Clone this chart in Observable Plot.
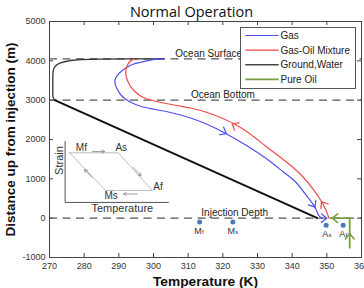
<!DOCTYPE html>
<html>
<head>
<meta charset="utf-8">
<script src="https://cdn.jsdelivr.net/npm/d3@7"></script>
<script src="https://cdn.jsdelivr.net/npm/@observablehq/plot@0.6"></script>
<style>
  body { margin: 0; background: #fff; }
  #chart { width: 364px; height: 288px; }
</style>
</head>
<body>
<div id="chart"></div>
<script>
// Axis ticks
const xTicks = [270, 280, 290, 300, 310, 320, 330, 340, 350, 360];
const yTicks = [-1000, 0, 1000, 2000, 3000, 4000, 5000];

// Reference depths (m above the injection point)
const levelNames = ["Ocean Surface", "Ocean Bottom", "Injection Depth"];
const levelZ = [4050, 3000, 0];
const levelLabelT = [306.3, 310.8, 313.8];

// Gas: travels down from the surface to the injection depth
const gasT = [303.0, 299.1, 296.3, 293.9, 292.4, 291.0, 289.8, 289.0, 288.9, 289.5, 290.5, 291.9, 293.9, 296.5, 300.6, 304.9, 310.7, 315.6, 320.3, 326.6, 332.3, 337.2, 341.0, 343.9, 346.4, 347.8, 348.7];
const gasZ = [4050, 4020, 3965, 3907, 3838, 3754, 3653, 3543, 3424, 3289, 3144, 3030, 2928, 2839, 2763, 2686, 2547, 2381, 2178, 1860, 1530, 1195, 920, 602, 305, 50, 0];

// Gas-oil mixture: returns from the injection depth to the surface
const mixT = [294.3, 293.2, 292.5, 292.1, 292.0, 292.3, 292.9, 293.8, 295.1, 296.8, 299.1, 302.9, 306.8, 310.7, 315.5, 319.3, 323.2, 327.7, 332.3, 336.1, 339.8, 343.0, 346.0, 348.8, 349.9, 350.6];
const mixZ = [4050, 3983, 3894, 3792, 3678, 3551, 3424, 3297, 3182, 3081, 3004, 2928, 2864, 2801, 2686, 2559, 2399, 2153, 1835, 1581, 1326, 1059, 742, 373, 169, 0];

// Water column (surface to sea floor) and ground (sea floor to injection depth)
const waterT = [303.0, 293.4, 284.7, 278.9, 276.1, 274.6, 273.2, 272.2, 271.6, 271.2, 271.0, 270.95, 270.95, 271.05, 271.3, 271.5];
const waterZ = [4050, 4049, 4044, 4029, 4008, 3983, 3950, 3907, 3856, 3792, 3703, 3602, 3119, 3068, 3030, 3000];
const groundT = [271.5, 347.3];
const groundZ = [3000, 0];

// Pure oil: rises from below, then turns toward the injection point
const oilT = [356.6, 356.6, 351.0];
const oilZ = [-750, 0, 0];

// Direction markers on the flow paths: tip position and heading (dT, dz)
const gasArrowT = [321.0, 346.6, 350.0];
const gasArrowZ = [2150, 280, 0];
const gasArrowDT = [1, 1, 1];
const gasArrowDZ = [-48.5, -141, 0];
const mixArrowT = [322.7, 348.5];
const mixArrowZ = [2400, 420];
const mixArrowDT = [-1, -1];
const mixArrowDZ = [54, 141];
const oilArrowT = [356.6, 351.55];
const oilArrowZ = [-390, 0];
const oilArrowDT = [0, -1];
const oilArrowDZ = [1, 0];

// Transformation temperatures
const phaseNames = ["Mf", "Ms", "As", "Af"];
const phaseT = [313.3, 322.9, 349.8, 354.7];
const phaseZ = [-100, -100, -180, -180];

// Inset: strain–temperature hysteresis loop
const insetAxisT = [274.5, 274.5, 304.3];
const insetAxisZ = [1950, 400, 400];
const loopT = [275.8, 289.8, 299.7, 286.2, 275.8];
const loopZ = [1662, 1662, 704, 704, 1662];
const loopArrowT1 = [282.4, 294.2, 295.4, 282.3];
const loopArrowZ1 = [1695, 1288, 615, 1034];
const loopArrowT2 = [285.9, 296.4, 291.35, 280.1];
const loopArrowZ2 = [1695, 1072, 615, 1237];
const loopLabels = ["Mf", "As", "Af", "Ms"];
const loopLabelT = [279.2, 290.7, 301.3, 287.8];
const loopLabelZ = [1789, 1797, 787, 576];

// Legend
const seriesNames = ["Gas", "Gas-Oil Mixture", "Ground,Water", "Pure Oil"];
const seriesColors = ["#4f4ff2", "#f04848", "#444444", "#78a040"];
const seriesWidths = [1.2, 1.2, 1.6, 1.8];

const titleText = "Normal Operation";
const xLabel = "Temperature (K)";
const yLabel = "Distance up from injection (m)";

const W = 364, H = 288;
const M = {top: 21, right: 3, bottom: 31, left: 49};
const fw = W - M.left - M.right, fh = H - M.top - M.bottom;
const xDomain = [270, 360], yDomain = [-1000, 5000];
const kx = fw / (xDomain[1] - xDomain[0]);
const ky = fh / (yDomain[1] - yDomain[0]);

const pts = (T, Z) => T.map((t, i) => ({T: t, z: Z[i]}));
const heads = (T, Z, DT, DZ) => T.map((t, i) => ({T: t, z: Z[i], dT: DT[i], dz: DZ[i]}));
const heading = d => Math.atan2(d.dT * kx, d.dz * ky) * 180 / Math.PI;

// Open chevron, tip at the anchor point
const chevron = {
  draw(ctx, l) {
    ctx.moveTo(-l * 0.62, l * 0.78);
    ctx.lineTo(0, 0);
    ctx.lineTo(l * 0.62, l * 0.78);
  }
};

const sans = "'Liberation Sans', Arial, sans-serif";
const titleFont = "'Open Sans', sans-serif";
const [cGas, cMix, cGround, cOil] = seriesColors;

const phases = phaseNames.map((n, i) => ({base: n[0], sub: n.slice(1), T: phaseT[i], z: phaseZ[i]}));
const levels = levelNames.map((n, i) => ({name: n, z: levelZ[i], T: levelLabelT[i]}));
const loopArrows = loopArrowT1.map((t, i) => ({x1: t, y1: loopArrowZ1[i], x2: loopArrowT2[i], y2: loopArrowZ2[i]}));
const loopText = loopLabels.map((n, i) => ({name: n, T: loopLabelT[i], z: loopLabelZ[i]}));

const plot = Plot.plot({
  width: W, height: H,
  marginTop: M.top, marginRight: M.right, marginBottom: M.bottom, marginLeft: M.left,
  x: {domain: xDomain},
  y: {domain: yDomain},
  style: {fontFamily: sans, fontSize: "9px", color: "#333", background: "#fff"},
  marks: [
    Plot.axisX(xTicks, {tickSize: 0, tickPadding: 5, tickFormat: d => String(d), label: null, fontSize: 9, fontFamily: sans}),
    Plot.axisY(yTicks, {tickSize: 0, tickPadding: 4, tickFormat: d => String(d), label: null, fontSize: 9, fontFamily: sans}),
    // inward ticks on all four sides
    Plot.tickX(xTicks, {x: d => d, insetTop: fh - 4, stroke: "#444"}),
    Plot.tickX(xTicks, {x: d => d, insetBottom: fh - 4, stroke: "#444"}),
    Plot.tickY(yTicks, {y: d => d, insetRight: fw - 4, stroke: "#444"}),
    Plot.tickY(yTicks, {y: d => d, insetLeft: fw - 4, stroke: "#444"}),

    // reference depths
    Plot.ruleY(levels, {y: "z", stroke: "#555", strokeWidth: 1.2, strokeDasharray: "8,5.5"}),
    Plot.text(levels, {x: "T", y: "z", text: "name", textAnchor: "start", lineAnchor: "bottom", dy: -2, fontSize: 10, fontFamily: sans, fill: "#222"}),

    // inset hysteresis sketch
    Plot.line(pts(insetAxisT, insetAxisZ), {x: "T", y: "z", stroke: "#555", strokeWidth: 1}),
    Plot.line(pts(loopT, loopZ), {x: "T", y: "z", stroke: "#b4b4b4", strokeWidth: 0.9}),
    Plot.arrow(loopArrows, {x1: "x1", y1: "y1", x2: "x2", y2: "y2", stroke: "#8a8a8a", strokeWidth: 0.8, headLength: 6}),
    Plot.text(loopText, {x: "T", y: "z", text: "name", fontSize: 10, fontFamily: sans, fill: "#333"}),
    Plot.text(["Temperature"], {x: [291.0], y: [254], text: d => d, fontSize: 11, fontFamily: sans, fill: "#333"}),
    Plot.text(["Strain"], {x: [273.0], y: [1466], text: d => d, rotate: -90, fontSize: 11, fontFamily: sans, fill: "#333"}),

    // water column and ground
    Plot.line(pts(waterT, waterZ), {x: "T", y: "z", stroke: "#333", strokeWidth: 1.3}),
    Plot.line(pts(groundT, groundZ), {x: "T", y: "z", stroke: "#111", strokeWidth: 2}),

    // flow paths
    Plot.line(pts(gasT, gasZ), {x: "T", y: "z", stroke: cGas, strokeWidth: 1.2, curve: "catmull-rom"}),
    Plot.line(pts(mixT, mixZ), {x: "T", y: "z", stroke: cMix, strokeWidth: 1.2, curve: "catmull-rom"}),
    Plot.line(pts(oilT, oilZ), {x: "T", y: "z", stroke: cOil, strokeWidth: 1.8}),

    Plot.vector(heads(gasArrowT, gasArrowZ, gasArrowDT, gasArrowDZ), {x: "T", y: "z", rotate: heading, length: 7, shape: chevron, anchor: "start", stroke: cGas, fill: "none", strokeWidth: 1.2}),
    Plot.vector(heads(mixArrowT, mixArrowZ, mixArrowDT, mixArrowDZ), {x: "T", y: "z", rotate: heading, length: 7, shape: chevron, anchor: "start", stroke: cMix, fill: "none", strokeWidth: 1.2}),
    Plot.vector(heads(oilArrowT, oilArrowZ, oilArrowDT, oilArrowDZ), {x: "T", y: "z", rotate: heading, length: 7, shape: chevron, anchor: "start", stroke: cOil, fill: "none", strokeWidth: 1.6}),

    // transformation temperature markers
    Plot.dot(phases, {x: "T", y: "z", r: 2.5, fill: "#4a78b4", stroke: "none"}),
    Plot.text(phases, {x: "T", y: "z", text: "base", textAnchor: "end", lineAnchor: "bottom", dx: 2.2, dy: 11.5, fontSize: 9, fontFamily: sans, fill: "#333"}),
    Plot.text(phases, {x: "T", y: "z", text: "sub", textAnchor: "start", lineAnchor: "bottom", dx: 2.4, dy: 11.8, fontSize: 6, fontFamily: sans, fill: "#333"}),

    Plot.frame({stroke: "#444"}),

    // title and axis labels
    Plot.text([titleText], {frameAnchor: "top-left", dx: 142, dy: -5, text: d => d, textAnchor: "middle", lineAnchor: "bottom", fontFamily: titleFont, fontSize: 14.5, fill: "#111"}),
    Plot.text([xLabel], {frameAnchor: "bottom", dy: 28.7, text: d => d, textAnchor: "middle", lineAnchor: "bottom", fontFamily: sans, fontSize: 13.5, fontWeight: "bold", fill: "#111"}),
    Plot.text([yLabel], {frameAnchor: "left", dx: -39, text: d => d, rotate: -90, textAnchor: "middle", lineAnchor: "middle", fontFamily: sans, fontSize: 13, fontWeight: "bold", fill: "#111"})
  ]
});

const svg = d3.select(plot);

// Pin the run length of the large labels so they span the same extent in any font
const fitText = (content, length) => svg.selectAll("text")
  .filter(function () { return this.textContent === content; })
  .attr("textLength", length).attr("lengthAdjust", "spacingAndGlyphs");
fitText(yLabel, 194);
fitText(xLabel, 105);

// Legend box in the upper right of the frame
const lg = svg.append("g").attr("transform", "translate(240.5,27.5)");
lg.append("rect").attr("width", 115).attr("height", 61).attr("fill", "#fff").attr("stroke", "#555");
seriesNames.forEach((name, i) => {
  const y = 8 + i * 14.6;
  lg.append("line").attr("x1", 4.8).attr("x2", 38.2).attr("y1", y).attr("y2", y)
    .attr("stroke", seriesColors[i]).attr("stroke-width", seriesWidths[i]);
  lg.append("text").attr("x", 40).attr("y", y).attr("dy", "0.35em").attr("text-anchor", "start")
    .attr("font-family", sans).attr("font-size", 10).attr("fill", "#222").text(name);
});

document.getElementById("chart").append(plot);
</script>
</body>
</html>
